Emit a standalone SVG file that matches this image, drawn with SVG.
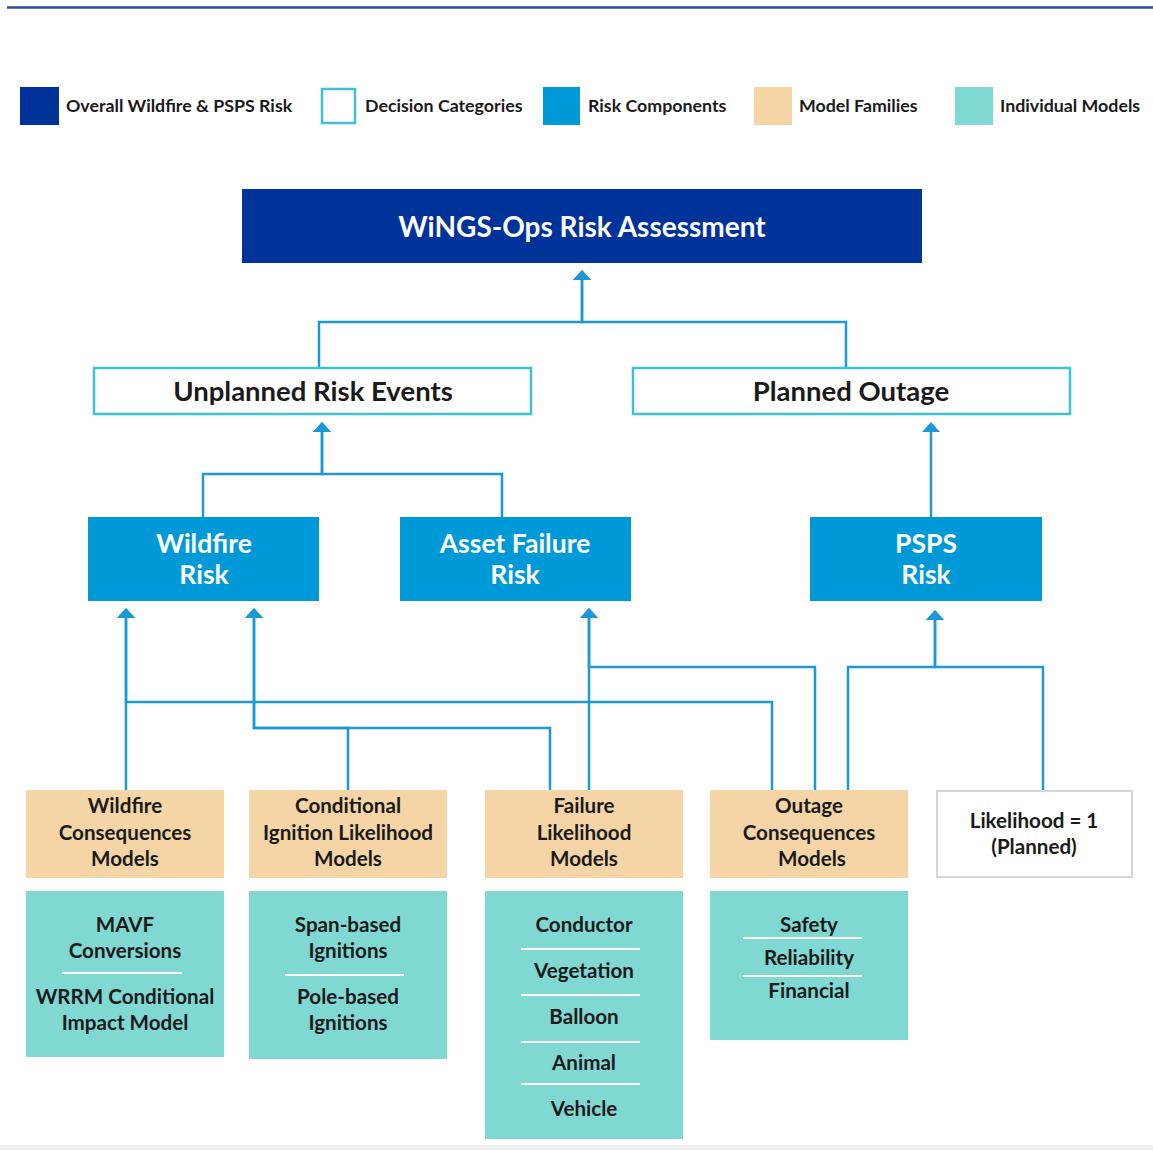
<svg xmlns="http://www.w3.org/2000/svg" width="1153" height="1150" viewBox="0 0 1153 1150">
<style>
text{font-family:Lato,"Open Sans","Liberation Sans",sans-serif;font-weight:700;fill:#1a1a1a;text-anchor:middle}
.leg{font-size:17.8px;text-anchor:start}
.title{font-size:28px;fill:#fff}
.dec{font-size:27.5px}
.rc{font-size:26.5px;fill:#fff}
.mf{font-size:20.6px}
.im{font-size:20.6px}
.decbox{fill:#fff;stroke:#3fc1d1;stroke-width:2.5}
.rcbox{fill:#0099d8}
.mfbox{fill:#f5d5a6}
.imbox{fill:#80d8d3}
.div{stroke:#fff;stroke-width:2}
.conn{fill:none;stroke:#1c98d5;stroke-width:2.5}
</style>
<defs>
<marker id="ah" markerUnits="userSpaceOnUse" viewBox="0 0 10 18" refX="0" refY="9" markerWidth="10" markerHeight="18" orient="auto">
<path d="M0,0 L10,9 L0,18 z" fill="#1c98d5"/>
</marker>
</defs>
<rect x="0" y="0" width="1153" height="1150" fill="#fff"/>
<line x1="7" y1="7.5" x2="1153" y2="7.5" stroke="#2a4a9c" stroke-width="2.5"/>
<rect x="0" y="1145" width="1153" height="5" fill="#f0f0f0"/>

<g id="legend">
<rect x="20" y="87" width="39" height="38" fill="#003399"/>
<text class="leg" x="66" y="112">Overall Wildfire &amp; PSPS Risk</text>
<rect x="322" y="89" width="33" height="34" fill="#fff" stroke="#3fc1d1" stroke-width="2.5"/>
<text class="leg" x="365" y="112">Decision Categories</text>
<rect x="543" y="87" width="37" height="38" fill="#0099d8"/>
<text class="leg" x="588" y="112">Risk Components</text>
<rect x="754" y="87" width="38" height="38" fill="#f5d5a6"/>
<text class="leg" x="799" y="112">Model Families</text>
<rect x="955" y="87" width="38" height="38" fill="#80d8d3"/>
<text class="leg" x="1000" y="112">Individual Models</text>
</g>

<g id="connectors">
<path class="conn" d="M319,368 V322 H582 V280" marker-end="url(#ah)"/>
<path class="conn" d="M846,368 V322 H582 V280" marker-end="url(#ah)"/>
<path class="conn" d="M203,517 V474 H322 V432" marker-end="url(#ah)"/>
<path class="conn" d="M502,517 V474 H322 V432" marker-end="url(#ah)"/>
<path class="conn" d="M931,517 V432" marker-end="url(#ah)"/>
<path class="conn" d="M126,790 V618" marker-end="url(#ah)"/>
<path class="conn" d="M348,790 V728 H254 V618" marker-end="url(#ah)"/>
<path class="conn" d="M550,790 V728 H254 V618" marker-end="url(#ah)"/>
<path class="conn" d="M772,790 V702 H126 V618" marker-end="url(#ah)"/>
<path class="conn" d="M589,790 V618" marker-end="url(#ah)"/>
<path class="conn" d="M815,790 V667 H589 V618" marker-end="url(#ah)"/>
<path class="conn" d="M848,790 V667 H935 V620" marker-end="url(#ah)"/>
<path class="conn" d="M1043,790 V667 H935 V620" marker-end="url(#ah)"/>
</g>

<g id="wings-ops">
<rect x="242" y="189" width="680" height="74" fill="#003399"/>
<text class="title" x="582" y="237">WiNGS-Ops Risk Assessment</text>
</g>

<g id="unplanned">
<rect class="decbox" x="94" y="368" width="437" height="46"/>
<text class="dec" x="313" y="401">Unplanned Risk Events</text>
</g>
<g id="planned">
<rect class="decbox" x="633" y="368" width="437" height="46"/>
<text class="dec" x="851" y="401">Planned Outage</text>
</g>

<g id="wildfire-risk">
<rect class="rcbox" x="88" y="517" width="231" height="84"/>
<text class="rc" x="204" y="553">Wildfire</text>
<text class="rc" x="204" y="584">Risk</text>
</g>
<g id="asset-failure-risk">
<rect class="rcbox" x="400" y="517" width="231" height="84"/>
<text class="rc" x="515" y="553">Asset Failure</text>
<text class="rc" x="515" y="584">Risk</text>
</g>
<g id="psps-risk">
<rect class="rcbox" x="810" y="517" width="232" height="84"/>
<text class="rc" x="926" y="553">PSPS</text>
<text class="rc" x="926" y="584">Risk</text>
</g>

<g id="wildfire-consequences">
<rect class="mfbox" x="26" y="790" width="198" height="88"/>
<text class="mf" x="125" y="813">Wildfire</text>
<text class="mf" x="125" y="840">Consequences</text>
<text class="mf" x="125" y="866">Models</text>
</g>
<g id="conditional-ignition">
<rect class="mfbox" x="249" y="790" width="198" height="88"/>
<text class="mf" x="348" y="813">Conditional</text>
<text class="mf" x="348" y="840">Ignition Likelihood</text>
<text class="mf" x="348" y="866">Models</text>
</g>
<g id="failure-likelihood">
<rect class="mfbox" x="485" y="790" width="198" height="88"/>
<text class="mf" x="584" y="813">Failure</text>
<text class="mf" x="584" y="840">Likelihood</text>
<text class="mf" x="584" y="866">Models</text>
</g>
<g id="outage-consequences">
<rect class="mfbox" x="710" y="790" width="198" height="88"/>
<text class="mf" x="809" y="813">Outage</text>
<text class="mf" x="809" y="840">Consequences</text>
<text class="mf" x="812" y="866">Models</text>
</g>
<g id="likelihood-planned">
<rect x="937" y="791" width="195" height="86" fill="#fff" stroke="#d6d6d6" stroke-width="2"/>
<text class="mf" x="1034" y="828">Likelihood = 1</text>
<text class="mf" x="1034" y="854">(Planned)</text>
</g>

<g id="wildfire-consequences-models">
<rect class="imbox" x="26" y="891" width="198" height="166"/>
<text class="im" x="125" y="932">MAVF</text>
<text class="im" x="125" y="958">Conversions</text>
<line class="div" x1="62" y1="973" x2="182" y2="973"/>
<text class="im" x="125" y="1004">WRRM Conditional</text>
<text class="im" x="125" y="1030">Impact Model</text>
</g>
<g id="ignition-models">
<rect class="imbox" x="249" y="891" width="198" height="168"/>
<text class="im" x="348" y="932">Span-based</text>
<text class="im" x="348" y="958">Ignitions</text>
<line class="div" x1="285" y1="975" x2="404" y2="975"/>
<text class="im" x="348" y="1004">Pole-based</text>
<text class="im" x="348" y="1030">Ignitions</text>
</g>
<g id="failure-models">
<rect class="imbox" x="485" y="891" width="198" height="248"/>
<text class="im" x="584" y="932">Conductor</text>
<line class="div" x1="521" y1="949" x2="640" y2="949"/>
<text class="im" x="584" y="978">Vegetation</text>
<line class="div" x1="521" y1="995" x2="640" y2="995"/>
<text class="im" x="584" y="1024">Balloon</text>
<line class="div" x1="521" y1="1042" x2="640" y2="1042"/>
<text class="im" x="584" y="1070">Animal</text>
<line class="div" x1="521" y1="1084" x2="640" y2="1084"/>
<text class="im" x="584" y="1116">Vehicle</text>
</g>
<g id="outage-models">
<rect class="imbox" x="710" y="891" width="198" height="149"/>
<text class="im" x="809" y="932">Safety</text>
<line class="div" x1="743" y1="938" x2="862" y2="938"/>
<text class="im" x="809" y="965">Reliability</text>
<line class="div" x1="743" y1="976" x2="862" y2="976"/>
<text class="im" x="809" y="998">Financial</text>
</g>
</svg>
